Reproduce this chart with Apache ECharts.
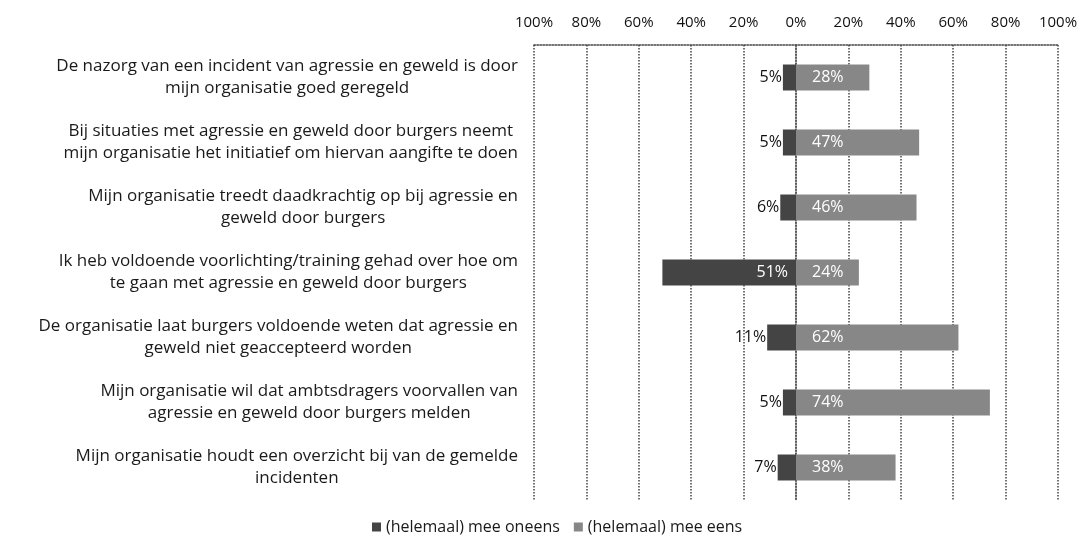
<!DOCTYPE html>
<html>
<head>
<meta charset="utf-8">
<script src="https://cdn.jsdelivr.net/npm/echarts@6/dist/echarts.min.js"></script>
<style>
  html, body { margin: 0; padding: 0; background: #fff; }
  #chart { width: 1083px; height: 541px; }
</style>
</head>
<body>
<div id="chart"></div>
<script>
var categories = [
    'De nazorg van een incident van agressie en geweld is door\nmijn organisatie goed geregeld',
    'Bij situaties met agressie en geweld door burgers neemt\nmijn organisatie het initiatief om hiervan aangifte te doen',
    'Mijn organisatie treedt daadkrachtig op bij agressie en\ngeweld door burgers',
    'Ik heb voldoende voorlichting/training gehad over hoe om\nte gaan met agressie en geweld door burgers',
    'De organisatie laat burgers voldoende weten dat agressie en\ngeweld niet geaccepteerd worden',
    'Mijn organisatie wil dat ambtsdragers voorvallen van\nagressie en geweld door burgers melden',
    'Mijn organisatie houdt een overzicht bij van de gemelde\nincidenten'
];
var oneens = [-5, -5, -6, -51, -11, -5, -7];
var eens = [28, 47, 46, 24, 62, 74, 38];
var seriesNames = ['(helemaal) mee oneens', '(helemaal) mee eens'];

var chart = echarts.init(document.getElementById('chart'));
var font = '"Open Sans", "Noto Sans", sans-serif';

// small negative bars get their label outside, big ones inside near 0
var oneensData = oneens.map(function (v) {
    var big = Math.abs(v) > 20;
    return {
        value: v,
        label: {
            position: big ? 'insideRight' : 'left',
            distance: big ? 8 : 1,
            color: big ? '#fff' : '#111'
        }
    };
});

var option = {
    backgroundColor: '#fff',
    textStyle: { fontFamily: font },
    grid: { left: 534, right: 25, top: 45, height: 455 },
    legend: {
        data: seriesNames,
        left: 367,
        top: 514,
        icon: 'rect',
        itemWidth: 9,
        itemHeight: 9,
        itemGap: 14,
        textStyle: { fontSize: 16, color: '#1a1a1a', fontFamily: font }
    },
    xAxis: {
        type: 'value',
        position: 'top',
        min: -100,
        max: 100,
        interval: 20,
        axisLine: { show: true, lineStyle: { color: '#444', type: 'dotted', width: 1.5 } },
        axisTick: { show: false },
        axisLabel: {
            margin: 15,
            fontSize: 15,
            color: '#111',
            formatter: function (v) { return Math.abs(v) + '%'; }
        },
        splitLine: { show: true, lineStyle: { color: '#444', type: 'dotted', width: 1.5 } }
    },
    yAxis: {
        type: 'category',
        inverse: true,
        data: categories,
        axisLine: { show: true, lineStyle: { color: '#555', type: 'dotted', width: 1.5 } },
        axisTick: { show: false },
        axisLabel: {
            margin: 16,
            align: 'right',
            fontSize: 17,
            color: '#1a1a1a',
            lineHeight: 22,
            formatter: function (v) {
                return v.split('\n').map(function (s) { return '{c|' + s + '}'; }).join('\n');
            },
            rich: {
                c: { align: 'center', fontSize: 17, lineHeight: 22, color: '#1a1a1a', fontFamily: font }
            }
        }
    },
    series: [
        {
            name: seriesNames[0],
            type: 'bar',
            stack: 'tot',
            barWidth: 26,
            itemStyle: { color: '#444444' },
            label: {
                show: true,
                fontSize: 16,
                fontFamily: font,
                formatter: function (p) { return Math.abs(p.value) + '%'; }
            },
            data: oneensData
        },
        {
            name: seriesNames[1],
            type: 'bar',
            stack: 'tot',
            barWidth: 26,
            itemStyle: { color: '#878787' },
            label: {
                show: true,
                position: 'insideLeft',
                distance: 16,
                fontSize: 16,
                fontFamily: font,
                color: '#fff',
                formatter: function (p) { return p.value + '%'; }
            },
            data: eens
        }
    ]
};
chart.setOption(option);
</script>
</body>
</html>
